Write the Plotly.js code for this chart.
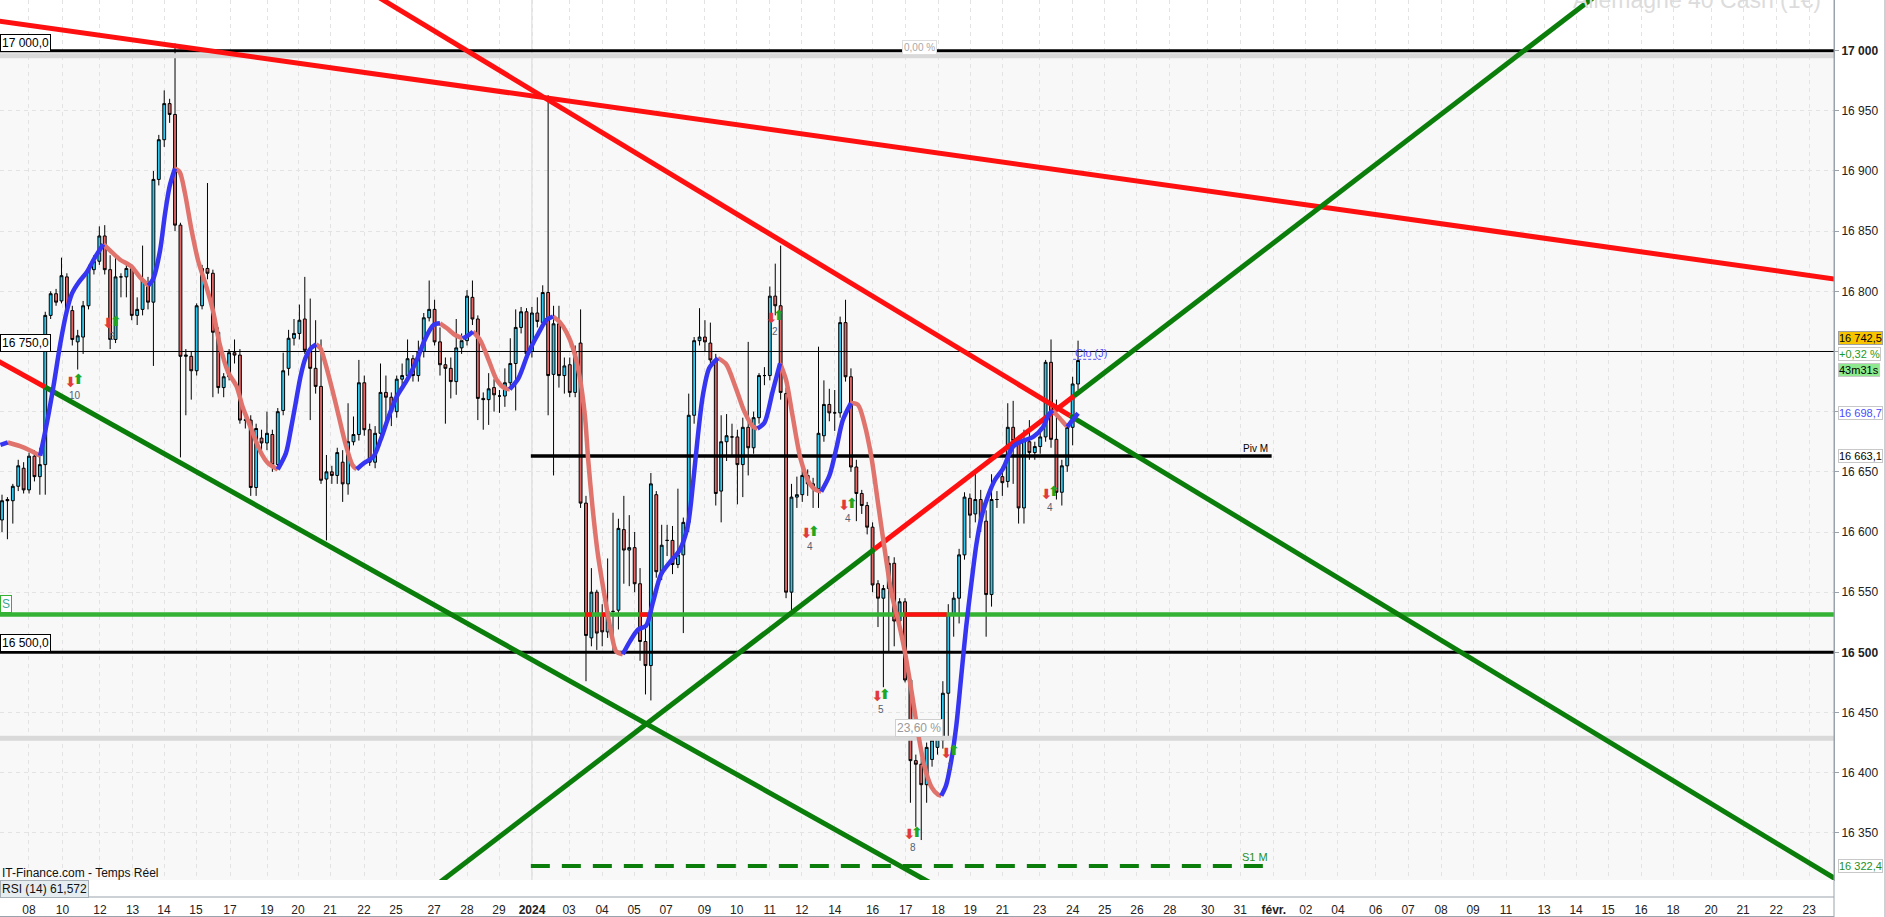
<!DOCTYPE html>
<html>
<head>
<meta charset="utf-8">
<script src="https://cdn.plot.ly/plotly-3.0.1.min.js"></script>
<style>
  html, body { margin: 0; padding: 0; background: #fff; }
  #chart { width: 1886px; height: 917px; }
</style>
</head>
<body>
<div id="chart"></div>
<script>
// 4h bars, Allemagne 40 Cash, 8 dec -> 24 janv (x = bar slot)
const open = [16610,16627,16626,16638,16653,16635,16663,16646,16656,16780,16798,16792,16812,16784,16758,16762,16788,16818,16825,16846,
  16818,16760,16812,16812,16819,16780,16785,16806,16791,16893,16926,16956,16947,16855,16746,16746,16734,16788,16819,16815,
  16766,16720,16729,16749,16747,16693,16693,16637,16678,16674,16681,16656,16701,16736,16761,16765,16777,16751,16736,16721,
  16644,16650,16647,16658,16640,16675,16681,16724,16685,16658,16682,16716,16712,16700,16727,16730,16744,16730,16750,16778,
  16785,16758,16739,16736,16725,16753,16759,16795,16777,16711,16710,16720,16713,16713,16724,16740,16770,16783,16750,16782,
  16774,16799,16731,16773,16730,16739,16716,16757,16624,16512,16550,16532,16517,16534,16535,16602,16585,16587,16557,16509,
  16489,16631,16565,16593,16593,16573,16581,16608,16697,16759,16762,16757,16743,16634,16675,16679,16679,16656,16687,16670,
  16695,16730,16730,16796,16788,16715,16550,16629,16631,16647,16640,16636,16680,16706,16699,16699,16774,16729,16654,16632,
  16622,16604,16557,16545,16553,16574,16526,16542,16477,16410,16407,16390,16411,16421,16427,16466,16532,16545,16581,16628,
  16615,16627,16609,16548,16627,16646,16642,16687,16676,16620,16675,16666,16671,16679,16741,16677,16633,16655,16687,16723];
const high = [16631,16629,16640,16660,16658,16666,16668,16670,16783,16800,16802,16828,16815,16788,16768,16792,16822,16830,16854,16855,
  16830,16830,16815,16825,16822,16795,16838,16812,16900,16930,16967,16960,17006,16857,16752,16750,16790,16822,16890,16818,
  16770,16732,16752,16760,16752,16697,16697,16690,16685,16700,16685,16703,16749,16768,16777,16789,16812,16794,16776,16760,
  16664,16655,16670,16668,16707,16696,16743,16730,16690,16688,16740,16730,16716,16730,16740,16760,16747,16759,16782,16809,
  16793,16770,16745,16745,16777,16765,16801,16809,16780,16716,16732,16727,16718,16736,16761,16785,16787,16786,16787,16795,
  16805,16963,16788,16788,16745,16745,16755,16785,16630,16570,16552,16540,16578,16616,16611,16630,16614,16600,16570,16520,
  16649,16634,16606,16606,16605,16636,16612,16715,16762,16786,16776,16774,16748,16697,16698,16690,16685,16695,16758,16700,
  16732,16737,16804,16823,16838,16720,16640,16646,16660,16652,16645,16754,16726,16719,16718,16779,16793,16736,16660,16635,
  16625,16608,16560,16556,16580,16579,16545,16545,16480,16415,16412,16425,16433,16436,16476,16540,16550,16586,16633,16632,
  16649,16635,16618,16648,16634,16655,16707,16709,16680,16685,16693,16675,16685,16743,16760,16710,16660,16690,16729,16759];
const low = [16600,16594,16607,16634,16632,16632,16642,16631,16631,16777,16788,16790,16782,16755,16735,16748,16785,16814,16822,16814,
  16752,16757,16795,16795,16776,16772,16780,16785,16738,16888,16920,16940,16850,16662,16697,16710,16730,16785,16810,16712,
  16715,16712,16726,16740,16690,16686,16630,16630,16668,16668,16650,16652,16697,16730,16755,16760,16748,16693,16715,16640,
  16593,16640,16640,16625,16631,16672,16676,16680,16655,16653,16678,16693,16688,16695,16720,16725,16725,16725,16745,16775,
  16755,16730,16690,16711,16714,16748,16755,16772,16693,16685,16689,16700,16699,16704,16720,16701,16765,16745,16745,16770,
  16770,16697,16647,16720,16715,16712,16712,16620,16476,16505,16502,16505,16512,16500,16519,16557,16555,16550,16493,16465,
  16460,16562,16560,16580,16565,16570,16516,16600,16690,16755,16750,16740,16622,16608,16659,16664,16623,16629,16647,16665,
  16690,16722,16726,16780,16710,16545,16535,16620,16625,16630,16620,16620,16675,16692,16684,16695,16725,16650,16609,16615,
  16598,16550,16521,16471,16500,16505,16515,16475,16375,16355,16344,16375,16405,16415,16420,16427,16513,16524,16577,16595,
  16608,16600,16513,16538,16620,16630,16637,16640,16607,16607,16660,16660,16665,16675,16670,16627,16622,16650,16672,16718];
const close = [16626,16626,16638,16655,16635,16663,16646,16656,16780,16798,16791,16813,16784,16760,16763,16788,16818,16825,16846,16818,
  16760,16812,16812,16819,16780,16785,16810,16791,16893,16926,16956,16947,16855,16746,16747,16734,16788,16819,16815,16766,
  16720,16729,16749,16747,16693,16693,16637,16686,16674,16682,16656,16700,16734,16761,16765,16776,16751,16736,16721,16643,
  16650,16647,16666,16640,16675,16681,16724,16685,16658,16682,16716,16712,16700,16727,16730,16744,16730,16750,16778,16785,
  16758,16739,16736,16725,16753,16759,16796,16777,16711,16710,16719,16714,16713,16724,16740,16770,16783,16748,16782,16775,
  16799,16730,16773,16730,16738,16716,16750,16624,16514,16550,16516,16517,16534,16534,16603,16585,16587,16557,16509,16489,
  16640,16567,16589,16593,16573,16581,16608,16697,16759,16762,16758,16743,16632,16675,16680,16679,16656,16687,16670,16695,
  16730,16730,16796,16788,16716,16550,16629,16631,16647,16640,16636,16682,16706,16699,16699,16774,16729,16654,16632,16622,
  16604,16556,16545,16553,16574,16526,16542,16477,16410,16407,16390,16421,16427,16430,16466,16532,16545,16581,16629,16614,
  16627,16609,16548,16627,16627,16641,16687,16676,16620,16676,16666,16671,16679,16741,16677,16633,16655,16687,16723,16742.5];

// smoothed average (read at its turning points and along the runs)
const maX = [-0.29,1.08,3.34,5.2,7.06,8.34,9.52,10.79,11.97,12.95,14.13,15.7,17.17,18.74,20.01,21.78,23.94,25.51,27.08,27.96,
  29.23,30.12,31.0,31.98,32.86,33.84,35.02,36.3,37.77,39.04,40.22,41.79,43.36,44.54,46.11,47.68,49.15,51.0,52.5,53.4,
  54.3,55.2,56.1,57.1,58.1,58.9,59.8,61.1,62.3,63.5,64.8,65.6,66.9,68.7,70.0,71.5,73.0,74.9,76.7,78.3,
  79.8,81.0,82.3,83.8,85.2,86.3,87.1,88.4,90.0,91.5,93.0,93.9,95.5,97.3,99.2,100.7,101.9,103.2,104.4,105.6,
  106.8,107.8,108.4,109.2,110.2,111.5,112.7,113.6,114.8,116.1,117.6,119.1,120.4,121.9,123.8,125.3,126.8,127.8,128.7,129.6,
  130.8,132.4,133.9,135.7,137.3,138.8,139.7,141.0,142.5,143.9,145.0,146.2,147.7,149.3,150.5,151.5,153.0,154.3,155.5,157.0,
  158.3,159.5,160.8,162.0,163.2,164.5,165.7,166.9,168.2,169.4,170.6,171.9,173.1,173.7,174.6,175.6,176.5,177.4,178.3,179.3,
  180.2,181.1,182.4,183.6,185.1,187.0,188.8,190.7,192.5,193.5,194.3,195.6,197.0,198.1,199.0];
const maY = [16672.3,16674.4,16671.4,16667.8,16663.4,16691.5,16721.2,16756.8,16783.5,16798.3,16807.2,16816.1,16828.0,16839.2,16833.9,16826.5,16820.6,16811.7,16804.8,16810.2,
  16833.9,16863.6,16887.3,16902.1,16899.2,16881.4,16851.7,16825.0,16804.2,16783.5,16756.8,16733.1,16721.2,16703.4,16685.6,16667.8,16657.4,16652.0,16665.4,16684.8,
  16706.9,16729.1,16744.3,16752.6,16755.9,16752.6,16740.2,16718.0,16695.8,16673.7,16655.7,16652.1,16657.1,16662.6,16676.4,16695.8,16712.5,16726.3,16742.9,16760.9,
  16772.0,16773.4,16769.3,16763.7,16760.9,16763.7,16766.5,16759.6,16742.9,16726.3,16719.4,16718.6,16727.7,16748.5,16765.1,16776.2,16779.1,16774.2,16765.9,16752.7,
  16729.7,16696.7,16660.5,16620.9,16581.4,16545.2,16515.5,16500.7,16498.4,16508.9,16518.8,16522.1,16541.9,16565.0,16576.5,16584.7,16604.5,16640.7,16680.3,16713.2,
  16736.3,16744.5,16739.6,16719.8,16700.0,16688.0,16686.0,16690.8,16716.5,16740.2,16726.4,16696.7,16660.5,16640.7,16635.0,16633.6,16646.7,16669.6,16693.0,16707.1,
  16705.6,16689.9,16661.7,16624.2,16586.6,16549.1,16527.2,16502.2,16467.7,16433.3,16405.2,16388.0,16381.7,16380.8,16389.5,16411.4,16439.6,16480.3,16520.9,16558.5,
  16589.8,16611.7,16630.5,16643.0,16652.4,16671.1,16675.8,16679.0,16687.0,16697.0,16701.0,16694.6,16687.4,16693.7,16698.7];

// date labels under the bars (slot positions)
const tickPos = [4.99,11.19,18.12,24.15,29.96,35.88,42.17,49.01,54.74,60.66,66.95,72.87,79.9,86.0,91.92,98.02,104.87,110.97,116.89,122.81,
  129.92,135.86,141.98,147.92,154.02,161.0,167.12,173.13,179.06,185.0,191.9,198.0,203.94,209.88,215.98,222.97,229.0,235.2,241.13,247.07,
  254.04,260.03,266.13,272.05,278.15,285.18,291.1,297.02,303.12,309.04,316.07,321.99,328.1,334.2];
const tickText = ['08','10','12','13','14','15','17','19','20','21','22','25','27','28','29','<b>2024</b>','03','04','05','07',
  '09','10','11','12','14','16','17','18','19','21','23','24','25','26','28','30','31','<b>févr.</b>','02','04',
  '06','07','08','09','11','13','14','15','16','18','20','21','22','23'];

const priceTicks = [16350,16400,16450,16500,16550,16600,16650,16700,16750,16800,16850,16900,16950,17000];

// drawn levels
const lvl17000 = 17000, lvlFib0 = 16995.8, lvl16750 = 16750, lvlSupport = 16531.4, lvl16500 = 16500, lvlFib236 = 16428.5;
const pivM = 16663.1, s1M = 16322.4, monthStart = 97.8, monthEnd = 234.8;
const supportRedFrom = [107.8,110.9,117.9,165.0,166.9];
const supportRedTo = [109.1,112.1,120.2,165.9,174.7];
const closeRefX = [198.1, 203.2], closeRefY = 16743.5;

// trend lines: slot / price vertices, colour per segment
const tlShallowX = [-2, 345], tlShallowY = [17025.5, 16806.4];
const tlSteepX = [63.9, 197.5, 340], tlSteepY = [17060, 16696.7, 16309.2];
const tlRiseX = [75.5, 161.37, 198.26, 298.9], tlRiseY = [16290, 16585.9, 16713.1, 17060];
const tlFallX = [-2, 7.95, 179], tlFallY = [16745.2, 16720.5, 16290];

// signal arrows with counts
const sigX = [13.41,20.34,142.96,149.44,156.46,162.57,168.49,175.33,193.82];
const sigY = [16723.8,16772.1,16777.0,16597.8,16621.1,16462.1,16347.4,16415.5,16630.7];
const sigLabel = ['10','6','2','4','4','5','8','1','4'];

const FONT = 'Liberation Sans, Arial, sans-serif';
const RED = '#ff1010', GREEN = '#0a7d0a';
const X0 = -0.37, X1 = 338.8;

const barX = open.map((_, i) => i);
const traces = [];

traces.push({
  type: 'candlestick', x: barX, open: open, high: high, low: low, close: close,
  increasing: { fillcolor: '#2ec7ef', line: { color: '#000', width: 1 } },
  decreasing: { fillcolor: '#e26767', line: { color: '#000', width: 1 } },
  whiskerwidth: 0, hoverinfo: 'skip'
});

function hline(y, color, width, x0, x1, dash) {
  traces.push({ type: 'scatter', mode: 'lines', x: [x0 === undefined ? X0 - 2 : x0, x1 === undefined ? X1 + 2 : x1], y: [y, y],
    line: { color: color, width: width, dash: dash || 'solid' }, hoverinfo: 'skip' });
}
hline(lvlFib0, '#d9d9d9', 5);
hline(lvlFib236, '#d9d9d9', 5);
hline(lvl17000, '#000', 3);
hline(lvl16750, '#000', 1);
hline(lvl16500, '#000', 3);
hline(lvlSupport, '#33b233', 4.5);
supportRedFrom.forEach((a, i) => hline(lvlSupport, RED, 4.5, a, supportRedTo[i]));
hline(pivM, '#000', 3.5, monthStart, monthEnd);
hline(s1M, GREEN, 4, monthStart, monthEnd, '19px,12px');
hline(closeRefY, '#5252ff', 1, closeRefX[0], closeRefX[1], '3px,2px');

function segLine(xs, ys, colors) {
  for (let i = 0; i < xs.length - 1; i++) {
    traces.push({ type: 'scatter', mode: 'lines', x: [xs[i], xs[i + 1]], y: [ys[i], ys[i + 1]],
      line: { color: colors[i], width: 5 }, hoverinfo: 'skip' });
  }
}
segLine(tlShallowX, tlShallowY, [RED]);
segLine(tlSteepX, tlSteepY, [RED, GREEN]);
segLine(tlRiseX, tlRiseY, [GREEN, RED, GREEN]);
segLine(tlFallX, tlFallY, [RED, GREEN]);

// average: blue while rising, salmon while falling
const upX = [], upY = [], dnX = [], dnY = [];
let dir = null;
for (let i = 1; i < maX.length; i++) {
  const d = maY[i] >= maY[i - 1] ? 'up' : 'dn';
  const tx = d === 'up' ? upX : dnX, ty = d === 'up' ? upY : dnY;
  if (d !== dir) {
    if (tx.length) { tx.push(null); ty.push(null); }
    tx.push(maX[i - 1]); ty.push(maY[i - 1]);
    dir = d;
  }
  tx.push(maX[i]); ty.push(maY[i]);
}
traces.push({ type: 'scatter', mode: 'lines', x: dnX, y: dnY, connectgaps: false,
  line: { color: '#e0736c', width: 4.5, shape: 'spline', smoothing: 0.8 }, hoverinfo: 'skip' });
traces.push({ type: 'scatter', mode: 'lines', x: upX, y: upY, connectgaps: false,
  line: { color: '#3535f2', width: 4.5, shape: 'spline', smoothing: 0.8 }, hoverinfo: 'skip' });

// signal arrows: red down + green up, side by side
traces.push({ type: 'scatter', mode: 'text', x: sigX.map(v => v - 0.7), y: sigY, text: sigX.map(() => '<b>⬇</b>'),
  textposition: 'middle center', textfont: { family: 'DejaVu Sans', size: 14, color: '#e23a3a' }, hoverinfo: 'skip' });
traces.push({ type: 'scatter', mode: 'text', x: sigX.map(v => v + 0.7), y: sigY.map(v => v + 2), text: sigX.map(() => '<b>⬆</b>'),
  textposition: 'middle center', textfont: { family: 'DejaVu Sans', size: 14, color: '#22a622' }, hoverinfo: 'skip' });

const PH = 880; // plot height in px
const ann = [];
sigX.forEach((x, i) => ann.push({ text: sigLabel[i], x: x, y: sigY[i], xref: 'x', yref: 'y', yshift: -12,
  showarrow: false, xanchor: 'center', yanchor: 'middle', font: { family: FONT, size: 10, color: '#556070' } }));

function boxNote(text, x, y, opts) {
  ann.push(Object.assign({
    text: text, x: x, y: y, xref: 'paper', yref: 'y', xanchor: 'left', yanchor: 'middle', showarrow: false,
    font: { family: FONT, size: 12, color: '#000' }, bgcolor: '#fff', bordercolor: '#000', borderwidth: 1, borderpad: 1
  }, opts || {}));
}
// left level tags
boxNote('17 000,0', 0, 17006);
boxNote('16 750,0', 0, 16757);
boxNote('S', 0, 16540, { bordercolor: '#33b233', font: { family: FONT, size: 12, color: '#3aa79a' } });
boxNote('16 500,0', 0, 16508);
// right value tags
const tagFont = (c) => ({ family: FONT, size: 11, color: c });
boxNote('16 742,5', 1.002, 16761.6, { bgcolor: '#f6c500', bordercolor: '#a0a0a0', borderpad: 0, font: tagFont('#000') });
boxNote('+0,32 %', 1.002, 16748.3, { bordercolor: '#c8c8c8', borderpad: 0, font: tagFont('#1e9a1e') });
boxNote('43m31s', 1.002, 16735.0, { bgcolor: '#8ee88e', bordercolor: '#c8c8c8', borderpad: 0, font: tagFont('#000') });
boxNote('16 698,7', 1.002, 16698.7, { bordercolor: '#c8c8c8', borderpad: 0, font: tagFont('#4a4aff') });
boxNote('16 663,1', 1.002, 16663.1, { bordercolor: '#c8c8c8', borderpad: 0, font: tagFont('#000') });
boxNote('16 322,4', 1.002, 16322.4, { bordercolor: '#c8c8c8', borderpad: 0, font: tagFont('#1f8f1f') });

ann.push({ text: 'Allemagne 40 Cash (1€)', xref: 'paper', yref: 'paper', x: 0.994, y: 1, xanchor: 'right', yanchor: 'middle',
  showarrow: false, font: { family: FONT, size: 23, color: '#dcdcdc' } });
ann.push({ text: 'IT-Finance.com - Temps Réel', xref: 'paper', yref: 'y', x: 0, y: 16316.4, xanchor: 'left', yanchor: 'middle',
  showarrow: false, font: { family: FONT, size: 12, color: '#111' } });
ann.push({ text: 'RSI (14) 61,572', xref: 'paper', yref: 'paper', x: 0, y: -8.5 / PH, xanchor: 'left', yanchor: 'middle',
  showarrow: false, font: { family: FONT, size: 12, color: '#111' }, bgcolor: '#e6edf1', bordercolor: '#a8b0b8', borderwidth: 1, borderpad: 1 });
ann.push({ text: 'Piv M', xref: 'x', yref: 'y', x: monthEnd - 0.3, y: 16669, xanchor: 'right', yanchor: 'middle',
  showarrow: false, font: { family: FONT, size: 10, color: '#000' } });
ann.push({ text: 'S1 M', xref: 'x', yref: 'y', x: monthEnd - 0.3, y: 16330, xanchor: 'right', yanchor: 'middle',
  showarrow: false, font: { family: FONT, size: 11, color: '#1f8f1f' } });
ann.push({ text: '0,00 %', xref: 'x', yref: 'y', x: 169.6, y: 17003, xanchor: 'center', yanchor: 'middle',
  showarrow: false, font: { family: FONT, size: 10, color: '#a8a8a8' }, bgcolor: '#fff', bordercolor: '#dddddd', borderwidth: 1 });
ann.push({ text: '23,60 %', xref: 'x', yref: 'y', x: 169.6, y: 16437, xanchor: 'center', yanchor: 'middle',
  showarrow: false, font: { family: FONT, size: 12, color: '#9a9a9a' }, bgcolor: '#fff', bordercolor: '#d0d0d0', borderwidth: 1 });
ann.push({ text: 'Clo (J)', xref: 'x', yref: 'y', x: 198.1, y: 16748.5, xanchor: 'left', yanchor: 'middle',
  showarrow: false, font: { family: FONT, size: 11, color: '#5252ff' } });

const shapes = [
  { type: 'rect', xref: 'paper', yref: 'y', x0: 0, x1: 1, y0: 16997, y1: 17060, fillcolor: '#fff', line: { width: 0 }, layer: 'below' },
  { type: 'line', xref: 'x', yref: 'paper', x0: 98.0, x1: 98.0, y0: 0, y1: 1, line: { color: '#d6d6d6', width: 1 }, layer: 'below' },
  { type: 'rect', xref: 'paper', yref: 'paper', x0: 0, x1: 1, y0: -17 / PH, y1: 0, fillcolor: '#fff', line: { width: 0 } },
  { type: 'line', xref: 'paper', yref: 'paper', x0: 0, x1: 1, y0: -17 / PH, y1: -17 / PH, line: { color: '#9aa3ab', width: 1 } },
  { type: 'line', xref: 'paper', yref: 'paper', x0: 0, x1: 1, y0: -36.5 / PH, y1: -36.5 / PH, line: { color: '#9aa3ab', width: 1 } },
  { type: 'line', xref: 'paper', yref: 'paper', x0: 1, x1: 1, y0: -37 / PH, y1: 1, line: { color: '#9aa3ab', width: 1 } },
  { type: 'line', xref: 'paper', yref: 'paper', x0: 1885 / 1834, x1: 1885 / 1834, y0: -37 / PH, y1: 1, line: { color: '#9aa3ab', width: 1 } }
];

const layout = {
  width: 1886, height: 917,
  margin: { l: 0, r: 52, t: 0, b: 37, pad: 0 },
  paper_bgcolor: '#fff', plot_bgcolor: '#f8f8f8',
  showlegend: false, boxgap: 0.25, hovermode: false,
  font: { family: FONT, size: 12, color: '#222' },
  xaxis: {
    range: [X0, X1], tickmode: 'array', tickvals: tickPos, ticktext: tickText, tickangle: 0,
    showgrid: true, gridcolor: '#e3e3e3', griddash: '4px,4px', gridwidth: 1,
    ticks: '', showline: true, linecolor: '#9aa3ab', zeroline: false,
    tickfont: { family: FONT, size: 12, color: '#222' }, ticklabelstandoff: 19,
    rangeslider: { visible: false }, fixedrange: true
  },
  yaxis: {
    range: [16310.8, 17042.1], side: 'right', tickmode: 'array', tickvals: priceTicks,
    ticktext: priceTicks.map(v => {
      const s = String(v).slice(0, 2) + ' ' + String(v).slice(2);
      return (v === 17000 || v === 16500) ? '<b>' + s + '</b>' : s;
    }),
    showgrid: true, gridcolor: '#e3e3e3', griddash: '4px,4px', gridwidth: 1,
    ticks: 'outside', ticklen: 4, tickcolor: '#9aa3ab', showline: true, linecolor: '#9aa3ab',
    zeroline: false, tickfont: { family: FONT, size: 12, color: '#222' }, fixedrange: true
  },
  annotations: ann,
  shapes: shapes
};

Plotly.newPlot('chart', traces, layout, { displayModeBar: false, staticPlot: true });
</script>
</body>
</html>
